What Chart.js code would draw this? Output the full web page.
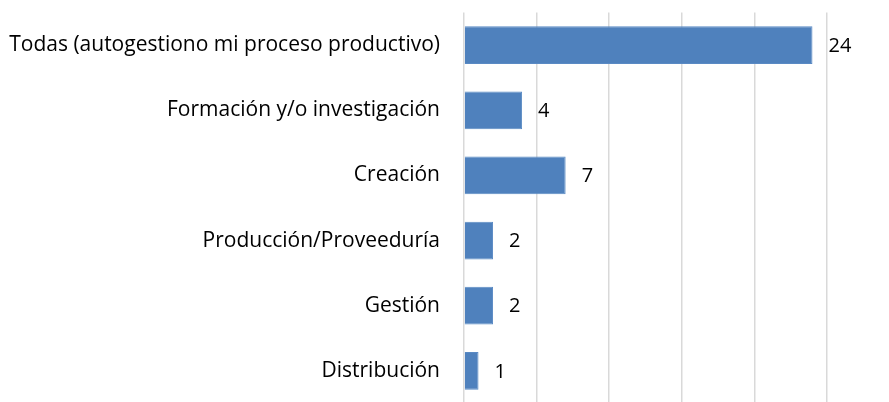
<!DOCTYPE html>
<html>
<head>
<meta charset="utf-8">
<script src="https://cdn.jsdelivr.net/npm/chart.js@4"></script>
<style>
  html, body { margin: 0; padding: 0; background: #fff; overflow: hidden; }
  #wrap { width: 889px; height: 416px; }
</style>
</head>
<body>
<div id="wrap"><canvas id="myChart" width="889" height="416"></canvas></div>
<script>
var categories = [
    'Todas (autogestiono mi proceso productivo)',
    'Formación y/o investigación',
    'Creación',
    'Producción/Proveeduría',
    'Gestión',
    'Distribución'
];
var values = [24, 4, 7, 2, 2, 1];
var xTicks = [0, 5, 10, 15, 20, 25];

var fontFamily = '"Open Sans", sans-serif';

// numbers written to the right of each bar
var valueLabels = {
    id: 'valueLabels',
    afterDatasetsDraw: function (chart) {
        var ctx = chart.ctx;
        var meta = chart.getDatasetMeta(0);
        ctx.save();
        ctx.font = '20px ' + fontFamily;
        ctx.fillStyle = '#000';
        ctx.textAlign = 'left';
        ctx.textBaseline = 'middle';
        meta.data.forEach(function (bar, i) {
            ctx.fillText(values[i], bar.x + 16, bar.y + 1);
        });
        ctx.restore();
    }
};

var ctx = document.getElementById('myChart').getContext('2d');
var chart = new Chart(ctx, {
    type: 'bar',
    data: {
        labels: categories,
        datasets: [{
            data: values,
            backgroundColor: '#4f81bd',
            borderColor: '#5a8ac4',
            borderWidth: 1,
            barPercentage: 0.58,
            categoryPercentage: 1
        }]
    },
    options: {
        indexAxis: 'y',
        responsive: false,
        animation: false,
        layout: { padding: { top: 11, right: 62, bottom: 0, left: 0 } },
        plugins: {
            legend: { display: false },
            tooltip: { enabled: false }
        },
        scales: {
            x: {
                min: xTicks[0],
                max: xTicks[xTicks.length - 1],
                afterBuildTicks: function (axis) {
                    axis.ticks = xTicks.map(function (v) { return { value: v }; });
                },
                ticks: { display: false },
                border: { display: false },
                grid: { color: '#d9d9d9', lineWidth: 1.5, drawTicks: false },
                afterFit: function (axis) { axis.height = 0; }
            },
            y: {
                // invisible tick marks push the labels away from the axis
                grid: { color: 'transparent', tickColor: 'transparent', drawTicks: true, tickLength: 24, drawOnChartArea: false },
                border: { display: false },
                ticks: {
                    color: '#000',
                    padding: 0,
                    font: { family: fontFamily, size: 21 }
                },
                afterFit: function (axis) { axis.width = 464; }
            }
        }
    },
    plugins: [valueLabels]
});
</script>
</body>
</html>
